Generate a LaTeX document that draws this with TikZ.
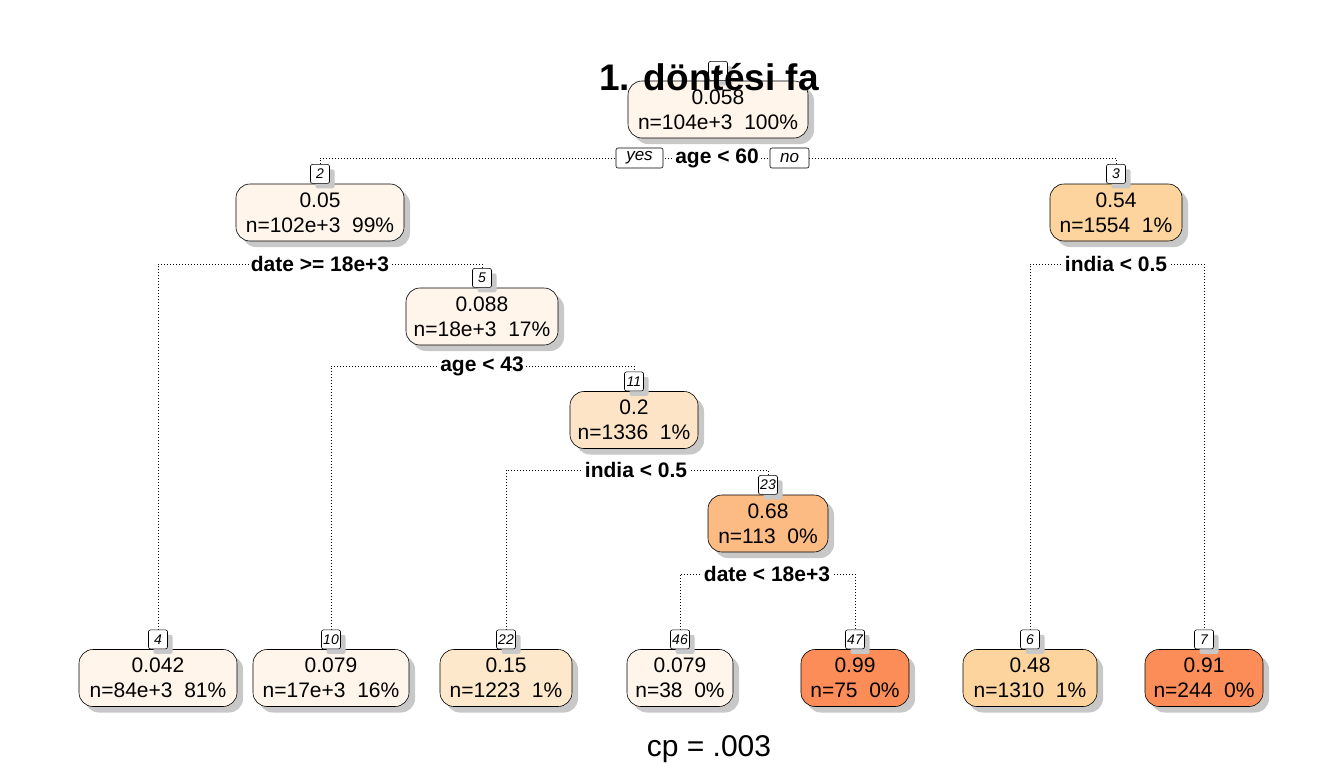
\documentclass[tikz,border=0pt]{standalone}
\usepackage{fontspec}
\setmainfont{Liberation Sans}
\usetikzlibrary{shadows}
\pgfdeclarelayer{bg}
\pgfsetlayers{bg,main}
\definecolor{c0}{HTML}{FFF5EB}
\definecolor{c15}{HTML}{FDE8CC}
\definecolor{c20}{HTML}{FDE4C6}
\definecolor{c54}{HTML}{FDD49E}
\definecolor{c68}{HTML}{FDBB84}
\definecolor{c99}{HTML}{FC8D59}
\definecolor{shd}{HTML}{C8C8C8}
\tikzset{
  tbox/.style={draw, line width=0.6pt, rounded corners=14pt, minimum height=57pt,
    align=center, inner sep=0pt, font=\fontsize{21}{25}\selectfont,
    drop shadow={shadow xshift=6pt, shadow yshift=-6pt, fill=shd, opacity=1}},
  lbox/.style={draw, line width=0.6pt, fill=white, rounded corners=2pt, anchor=south,
    font=\itshape\fontsize{14}{14}\selectfont, minimum width=19pt, minimum height=19pt,
    inner sep=1.5pt,
    drop shadow={shadow xshift=5pt, shadow yshift=-5pt, fill=shd, opacity=1}},
  splitlab/.style={fill=white, font=\bfseries\fontsize{21}{22}\selectfont,
    inner xsep=2pt, inner ysep=1pt},
  yn/.style={draw, line width=0.6pt, fill=white, rounded corners=2pt,
    font=\itshape\fontsize{17}{17}\selectfont, minimum height=20pt, inner sep=1pt},
  dotl/.style={line width=0.8pt, dash pattern=on 0.8pt off 2.2pt}
}
\newcommand\tn[7]{%
  \node[tbox, fill=#5, minimum width=#4pt] (n#1) at (#2,#3) {#6\\#7};
  \node[lbox] (l#1) at (n#1.north) {#1};}
\begin{document}
\begin{tikzpicture}[x=1pt,y=-1pt]
\useasboundingbox (0,0) rectangle (1344,768);
\tn{1}{718}{109.5}{180}{c0}{0.058}{n=104e+3\ \ 100\%}
\tn{2}{320}{212.5}{168}{c0}{0.05}{n=102e+3\ \ 99\%}
\tn{3}{1116}{212.5}{132}{c54}{0.54}{n=1554\ \ 1\%}
\tn{5}{482}{316.5}{152}{c0}{0.088}{n=18e+3\ \ 17\%}
\tn{11}{634}{420}{128}{c20}{0.2}{n=1336\ \ 1\%}
\tn{23}{768}{523.5}{120}{c68}{0.68}{n=113\ \ 0\%}
\tn{4}{158}{678}{158}{c0}{0.042}{n=84e+3\ \ 81\%}
\tn{10}{331}{678}{156}{c0}{0.079}{n=17e+3\ \ 16\%}
\tn{22}{506}{678}{132}{c15}{0.15}{n=1223\ \ 1\%}
\tn{46}{680}{678}{106}{c0}{0.079}{n=38\ \ 0\%}
\tn{47}{855}{678}{108}{c99}{0.99}{n=75\ \ 0\%}
\tn{6}{1030}{678}{134}{c54}{0.48}{n=1310\ \ 1\%}
\tn{7}{1204}{678}{118}{c99}{0.91}{n=244\ \ 0\%}
\node[splitlab] (s1) at (717,158) {age < 60};
\node[splitlab] (s2) at (320,264) {date >= 18e+3};
\node[splitlab] (s3) at (1116,264) {india < 0.5};
\node[splitlab] (s5) at (482,366) {age < 43};
\node[splitlab] (s11) at (636,470) {india < 0.5};
\node[splitlab] (s23) at (767,574) {date < 18e+3};
\node[yn, minimum width=47pt] (yes) at (639.5,158) {yes};
\node[yn, minimum width=39pt] (no) at (789.5,158) {no};
\begin{pgfonlayer}{bg}
\fill[white] (0,0) rectangle (1344,768);
\draw[dotl] (l2.north) |- (s1.center) -| (l3.north);
\draw[dotl] (l4.north) |- (s2.center) -| (l5.north);
\draw[dotl] (l6.north) |- (s3.center) -| (l7.north);
\draw[dotl] (l10.north) |- (s5.center) -| (l11.north);
\draw[dotl] (l22.north) |- (s11.center) -| (l23.north);
\draw[dotl] (l46.north) |- (s23.center) -| (l47.north);
\end{pgfonlayer}
\node[font=\bfseries\fontsize{37}{40}\selectfont, anchor=base, inner sep=0pt] (title) at (709,91) {1. döntési fa};
\node[font=\fontsize{30}{32}\selectfont, anchor=base, inner sep=0pt] (cp) at (709,756) {cp = .003};
\end{tikzpicture}
\end{document}
